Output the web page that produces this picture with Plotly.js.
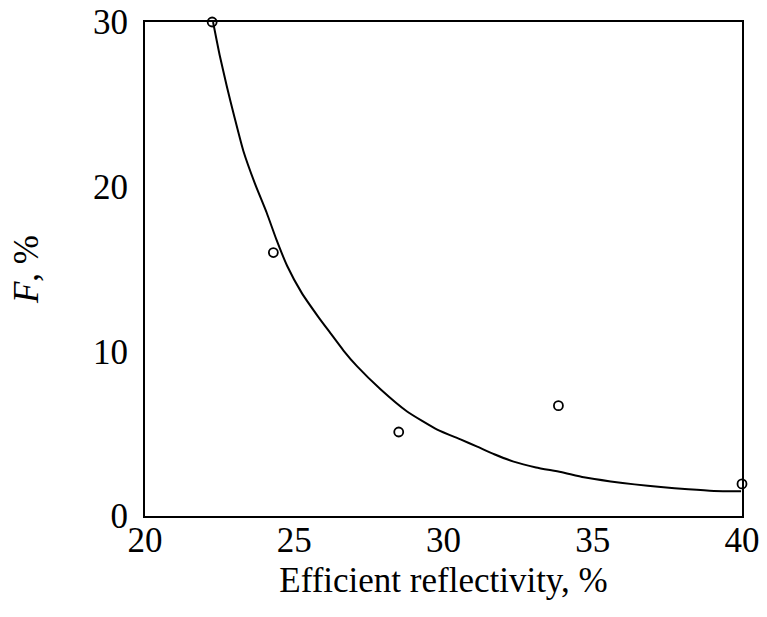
<!DOCTYPE html>
<html>
<head>
<meta charset="utf-8">
<script src="https://cdn.plot.ly/plotly-3.0.1.min.js"></script>
<style>html,body{margin:0;padding:0;background:#fff;}#chart{width:767px;height:617px;}</style>
</head>
<body>
<div id="chart"></div>
<script>
// Measured data points
const pointX = [22.25, 24.3, 28.5, 33.85, 40.0];
const pointY = [30.0, 16.0, 5.1, 6.7, 1.95];

// Fitted curve
const curveX = [22.28, 22.50, 22.74, 23.00, 23.29, 23.68, 24.08, 24.40, 24.76, 25.25, 25.81, 26.21, 26.65, 27.10, 27.89, 28.78, 29.79, 30.57, 31.13, 31.70, 32.35, 33.10, 33.93, 34.70, 35.60, 36.40, 37.28, 38.20, 39.06, 39.97];
const curveY = [30.0, 28.00, 26.10, 24.20, 22.20, 20.20, 18.40, 16.80, 15.20, 13.55, 12.08, 11.11, 10.05, 9.10, 7.70, 6.35, 5.25, 4.65, 4.21, 3.75, 3.30, 2.95, 2.67, 2.35, 2.10, 1.92, 1.76, 1.62, 1.52, 1.50];

const xTicks = [20, 25, 30, 35, 40];
const yTicks = [0, 10, 20, 30];

const font = {family: '"Liberation Serif", "Times New Roman", serif', color: '#000', size: 35};

const traces = [
  {x: curveX, y: curveY, mode: 'lines', line: {color: '#000', width: 2, shape: 'spline', smoothing: 0.5}, hoverinfo: 'skip', showlegend: false},
  {x: pointX, y: pointY, mode: 'markers', marker: {symbol: 'circle-open', size: 9, color: '#000', line: {width: 1.8, color: '#000'}}, cliponaxis: false, showlegend: false}
];

const layout = {
  width: 767, height: 617,
  margin: {l: 145, r: 25, t: 22, b: 101},
  paper_bgcolor: '#fff', plot_bgcolor: '#fff',
  font: font,
  showlegend: false,
  xaxis: {
    range: [20, 40], tickvals: xTicks, ticktext: xTicks.map(String),
    showgrid: false, zeroline: false, ticks: '',
    showline: true, mirror: true, linecolor: '#000', linewidth: 2,
    tickfont: font, ticklabelstandoff: -8,
    title: {text: 'Efficient reflectivity, %', font: font, standoff: 8},
    automargin: false
  },
  yaxis: {
    range: [0, 30], tickvals: yTicks, ticktext: yTicks.map(String),
    showgrid: false, zeroline: false, ticks: '',
    showline: true, mirror: true, linecolor: '#000', linewidth: 2,
    tickfont: font, ticklabelstandoff: 8,
    title: {text: '<i>F</i>, %', font: font, standoff: 44},
    automargin: false
  }
};

Plotly.newPlot('chart', traces, layout, {displayModeBar: false, staticPlot: true});
</script>
</body>
</html>
